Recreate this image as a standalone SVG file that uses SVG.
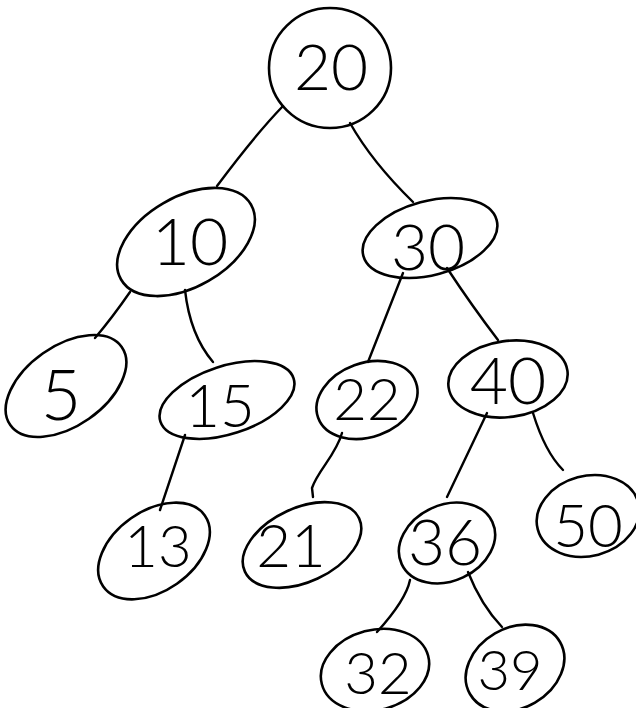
<svg xmlns="http://www.w3.org/2000/svg" width="636" height="708" viewBox="0 0 636 708">
<style>
.n ellipse{fill:none;stroke:#000;stroke-width:2.6}
.n text{font-family:Lato,"Liberation Sans",sans-serif;font-weight:300;text-anchor:middle;fill:#000}
#edges path{fill:none;stroke:#000;stroke-width:2.4;stroke-linecap:round;stroke-linejoin:round}
</style>
<rect width="636" height="708" fill="#fff"/>
<g id="edges">
<path d="M283,106 Q255,135 217,186"/>
<path d="M350,123 Q372,162 413,202"/>
<path d="M130,292 Q112,318 95,338"/>
<path d="M185,290 Q190,335 213,362"/>
<path d="M403,273 Q386,316 368,362"/>
<path d="M447,268 Q472,306 498,340"/>
<path d="M185,435 L160,510"/>
<path d="M342,433 C336,455 318,470 312,488 L313,497"/>
<path d="M487,413 L447,497"/>
<path d="M533,413 Q545,452 563,470"/>
<path d="M410,580 Q406,600 377,632"/>
<path d="M468,572 Q481,605 502,627"/>
</g>
<g id="n20" class="n"><ellipse cx="330" cy="68" rx="61" ry="60"/><text x="331" y="90" font-size="64">20</text></g>
<g id="n10" class="n"><ellipse cx="186" cy="242" rx="75" ry="45" transform="rotate(-30 186 242)"/><text x="190" y="265" font-size="66">10</text></g>
<g id="n30" class="n"><ellipse cx="430" cy="238" rx="69" ry="37" transform="rotate(-15 430 238)"/><text x="428" y="270" font-size="64">30</text></g>
<g id="n5" class="n"><ellipse cx="66" cy="386" rx="68" ry="40" transform="rotate(-35 66 386)"/><text x="61" y="420" font-size="70">5</text></g>
<g id="n15" class="n"><ellipse cx="227" cy="400" rx="70" ry="34" transform="rotate(-18 227 400)"/><text x="220" y="427" font-size="60">15</text></g>
<g id="n22" class="n"><ellipse cx="367" cy="400" rx="52" ry="37" transform="rotate(-20 367 400)"/><text x="367" y="420" font-size="58">22</text></g>
<g id="n40" class="n"><ellipse cx="508" cy="379" rx="60" ry="38" transform="rotate(-8 508 379)"/><text x="508" y="404" font-size="66">40</text></g>
<g id="n13" class="n"><ellipse cx="154" cy="551" rx="62" ry="40" transform="rotate(-35 154 551)"/><text x="158" y="567" font-size="58">13</text></g>
<g id="n21" class="n"><ellipse cx="302" cy="545" rx="63" ry="37" transform="rotate(-25 302 545)"/><text x="291" y="567" font-size="60">21</text></g>
<g id="n36" class="n"><ellipse cx="447" cy="543" rx="50" ry="38" transform="rotate(-25 447 543)"/><text x="445" y="565" font-size="64">36</text></g>
<g id="n50" class="n"><ellipse cx="588" cy="516" rx="52" ry="40" transform="rotate(-15 588 516)"/><text x="588" y="547" font-size="60">50</text></g>
<g id="n32" class="n"><ellipse cx="375" cy="670" rx="55" ry="40" transform="rotate(-15 375 670)"/><text x="378" y="694" font-size="58">32</text></g>
<g id="n39" class="n"><ellipse cx="515" cy="668" rx="52" ry="40" transform="rotate(-30 515 668)"/><text x="510" y="690" font-size="56">39</text></g>
</svg>
